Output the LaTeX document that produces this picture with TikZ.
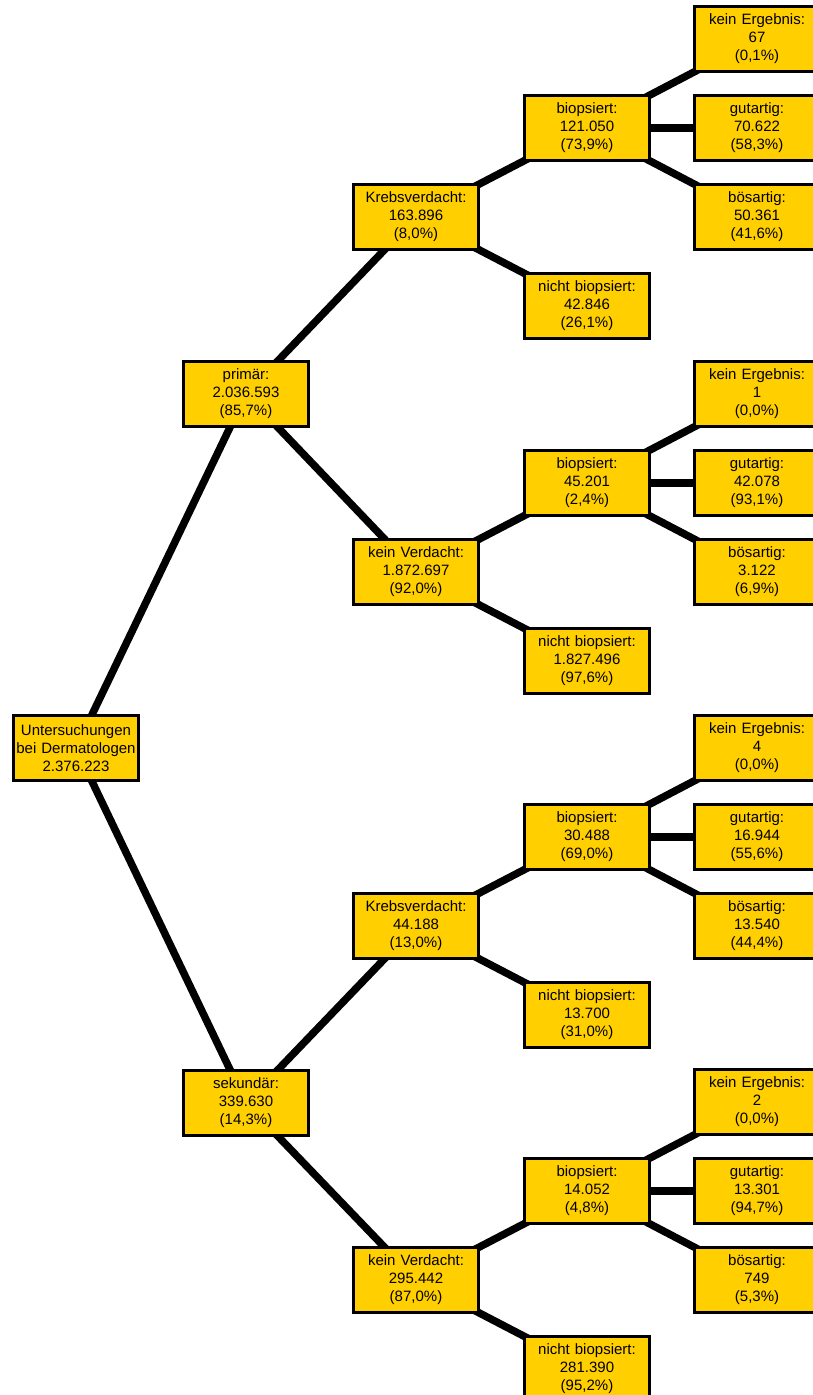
\documentclass[tikz,border=0pt]{standalone}
\usepackage{fontspec}
\setmainfont{Liberation Sans}
\usetikzlibrary{backgrounds}
\definecolor{boxfill}{RGB}{255,207,0}
\begin{document}
\begin{tikzpicture}[x=1pt,y=-1pt,
  box/.style={draw=black, line width=3pt, fill=boxfill, text width=125pt,
    inner xsep=0pt, inner ysep=0pt, minimum height=65pt, align=center,
    font=\fontsize{15}{18}\selectfont},
  edge/.style={line width=7.5pt, black}]
\useasboundingbox (0,0) rectangle (813,1395);
% root and level 1
\node[box] (root) at (76,748) {Untersuchungen\\bei Dermatologen\\2.376.223};
\node[box] (p) at (246,394) {primär:\\2.036.593\\(85,7\%)};
\node[box] (s) at (246,1103) {sekundär:\\339.630\\(14,3\%)};
% level 2
\node[box] (pK) at (416,217) {Krebsverdacht:\\163.896\\(8,0\%)};
\node[box] (pV) at (416,572) {kein Verdacht:\\1.872.697\\(92,0\%)};
\node[box] (sK) at (416,926) {Krebsverdacht:\\44.188\\(13,0\%)};
\node[box] (sV) at (416,1280) {kein Verdacht:\\295.442\\(87,0\%)};
% group 1
\node[box] (pKb) at (587,128) {biopsiert:\\121.050\\(73,9\%)};
\node[box] (pKn) at (587,306) {nicht biopsiert:\\42.846\\(26,1\%)};
\node[box] (pKb1) at (757,39) {kein Ergebnis:\\67\\(0,1\%)};
\node[box] (pKb2) at (757,128) {gutartig:\\70.622\\(58,3\%)};
\node[box] (pKb3) at (757,217) {bösartig:\\50.361\\(41,6\%)};
% group 2
\node[box] (pVb) at (587,483) {biopsiert:\\45.201\\(2,4\%)};
\node[box] (pVn) at (587,661) {nicht biopsiert:\\1.827.496\\(97,6\%)};
\node[box] (pVb1) at (757,394) {kein Ergebnis:\\1\\(0,0\%)};
\node[box] (pVb2) at (757,483) {gutartig:\\42.078\\(93,1\%)};
\node[box] (pVb3) at (757,572) {bösartig:\\3.122\\(6,9\%)};
% group 3
\node[box] (sKb) at (587,837) {biopsiert:\\30.488\\(69,0\%)};
\node[box] (sKn) at (587,1015) {nicht biopsiert:\\13.700\\(31,0\%)};
\node[box] (sKb1) at (757,748) {kein Ergebnis:\\4\\(0,0\%)};
\node[box] (sKb2) at (757,837) {gutartig:\\16.944\\(55,6\%)};
\node[box] (sKb3) at (757,926) {bösartig:\\13.540\\(44,4\%)};
% group 4
\node[box] (sVb) at (587,1191) {biopsiert:\\14.052\\(4,8\%)};
\node[box] (sVn) at (587,1369) {nicht biopsiert:\\281.390\\(95,2\%)};
\node[box] (sVb1) at (757,1102) {kein Ergebnis:\\2\\(0,0\%)};
\node[box] (sVb2) at (757,1191) {gutartig:\\13.301\\(94,7\%)};
\node[box] (sVb3) at (757,1280) {bösartig:\\749\\(5,3\%)};
% connectors
\begin{pgfonlayer}{background}
\foreach \a/\b in {root/p, root/s, p/pK, p/pV, s/sK, s/sV,
  pK/pKb, pK/pKn, pKb/pKb1, pKb/pKb2, pKb/pKb3,
  pV/pVb, pV/pVn, pVb/pVb1, pVb/pVb2, pVb/pVb3,
  sK/sKb, sK/sKn, sKb/sKb1, sKb/sKb2, sKb/sKb3,
  sV/sVb, sV/sVn, sVb/sVb1, sVb/sVb2, sVb/sVb3}
  \draw[edge] (\a.center) -- (\b.center);
\end{pgfonlayer}
\end{tikzpicture}
\end{document}
